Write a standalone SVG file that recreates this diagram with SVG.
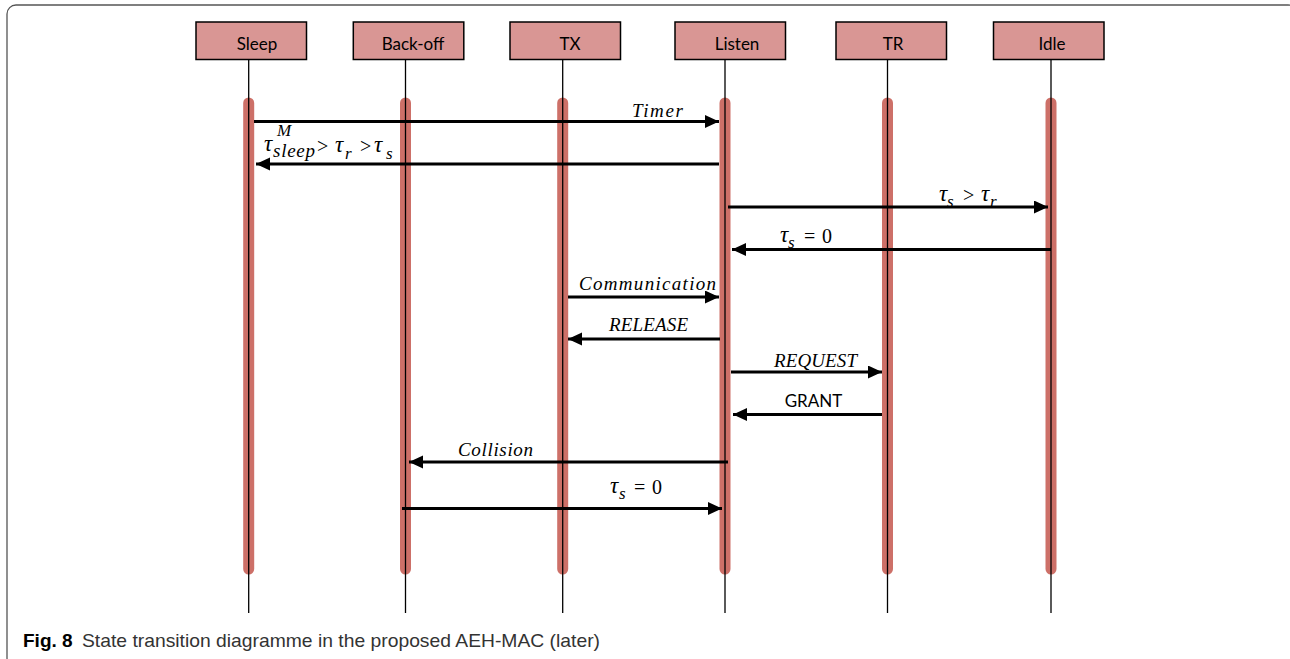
<svg xmlns="http://www.w3.org/2000/svg" width="1290" height="659" viewBox="0 0 1290 659">
<style>
.box{fill:#d99694;stroke:#000;stroke-width:1.5}
.hl{font-family:Lato,"Open Sans","Liberation Sans",sans-serif;font-size:17px;fill:#000;text-anchor:middle}
.life{stroke:#000;stroke-width:1.3}
.bar{stroke:#cd7068;stroke-width:11;stroke-linecap:round}
.arr{stroke:#000;stroke-width:3;fill:none;marker-end:url(#ah)}
.m{font-family:"Liberation Serif","DejaVu Serif",serif;font-style:italic;font-size:19px;fill:#000}
.t{font-family:"Liberation Serif","DejaVu Serif",serif;font-style:italic;font-size:23px;fill:#000}
.ms{font-family:"Liberation Serif","DejaVu Serif",serif;font-style:italic;font-size:17px;fill:#000}
.mr{font-family:"Liberation Serif","DejaVu Serif",serif;font-size:20px;fill:#000}
.cap{font-family:"Liberation Sans",Arial,sans-serif;font-size:19px}
</style>
<defs>
<marker id="ah" markerUnits="userSpaceOnUse" markerWidth="15" markerHeight="14" refX="14" refY="6.5" orient="auto">
<path d="M0,0 L14,6.5 L0,13 z" fill="#000"/>
</marker>
</defs>
<rect x="7" y="5" width="1290" height="662" rx="9" fill="none" stroke="#555" stroke-width="1.3"/>
<g id="node-sleep">
<line class="bar" x1="248.7" y1="103" x2="248.7" y2="569"/>
<line class="life" x1="248.7" y1="60" x2="248.7" y2="613"/>
<rect class="box" x="196" y="22" width="110.5" height="37.5"/>
<text class="hl" x="257" y="50">Sleep</text>
</g>
<g id="node-backoff">
<line class="bar" x1="405.5" y1="103" x2="405.5" y2="569"/>
<line class="life" x1="405.5" y1="60" x2="405.5" y2="613"/>
<rect class="box" x="353.3" y="22" width="110.5" height="37.5"/>
<text class="hl" x="413" y="50">Back-off</text>
</g>
<g id="node-tx">
<line class="bar" x1="562.7" y1="103" x2="562.7" y2="569"/>
<line class="life" x1="562.7" y1="60" x2="562.7" y2="613"/>
<rect class="box" x="510" y="22" width="110.5" height="37.5"/>
<text class="hl" x="570" y="50">TX</text>
</g>
<g id="node-listen">
<line class="bar" x1="725" y1="103" x2="725" y2="569"/>
<line class="life" x1="725" y1="60" x2="725" y2="613"/>
<rect class="box" x="675" y="22" width="110.5" height="37.5"/>
<text class="hl" x="737" y="50">Listen</text>
</g>
<g id="node-tr">
<line class="bar" x1="887.5" y1="103" x2="887.5" y2="569"/>
<line class="life" x1="887.5" y1="60" x2="887.5" y2="613"/>
<rect class="box" x="836" y="22" width="110.5" height="37.5"/>
<text class="hl" x="893" y="50">TR</text>
</g>
<g id="node-idle">
<line class="bar" x1="1051" y1="103" x2="1051" y2="569"/>
<line class="life" x1="1051" y1="60" x2="1051" y2="613"/>
<rect class="box" x="993.5" y="22" width="110.5" height="37.5"/>
<text class="hl" x="1052" y="50">Idle</text>
</g>
<g id="connectors">
<line class="arr" x1="254" y1="121.5" x2="719" y2="121.5"/>
<line class="arr" x1="719" y1="164" x2="256" y2="164"/>
<line class="arr" x1="728" y1="207" x2="1048" y2="207"/>
<line class="arr" x1="1051" y1="249.5" x2="732" y2="249.5"/>
<line class="arr" x1="568" y1="297" x2="719" y2="297"/>
<line class="arr" x1="720" y1="339" x2="568" y2="339"/>
<line class="arr" x1="731" y1="372" x2="882" y2="372"/>
<line class="arr" x1="882" y1="414.5" x2="733" y2="414.5"/>
<line class="arr" x1="728" y1="462" x2="409" y2="462"/>
<line class="arr" x1="402" y1="508.5" x2="722" y2="508.5"/>
</g>
<g id="labels">
<text class="m" x="632" y="117" textLength="51" lengthAdjust="spacing">Timer</text>
<text class="t" x="264" y="151">τ</text>
<text class="ms" x="277" y="136">M</text>
<text class="m" x="273" y="157" textLength="42" lengthAdjust="spacing">sleep</text>
<text class="mr" x="317" y="153">&gt;</text>
<text class="t" x="335" y="152">τ</text>
<text class="ms" x="345" y="159">r</text>
<text class="mr" x="360" y="153">&gt;</text>
<text class="t" x="374" y="152">τ</text>
<text class="ms" x="386" y="159">s</text>
<text class="t" x="939" y="201">τ</text>
<text class="ms" x="947" y="207">s</text>
<text class="mr" x="963" y="202">&gt;</text>
<text class="t" x="981" y="201">τ</text>
<text class="ms" x="990" y="207">r</text>
<text class="t" x="780" y="242">τ</text>
<text class="ms" x="788" y="248">s</text>
<text class="mr" x="804" y="243">=</text>
<text class="mr" x="822" y="243">0</text>
<text class="m" x="579" y="290" textLength="137" lengthAdjust="spacing">Communication</text>
<text class="m" x="609" y="331" textLength="79" lengthAdjust="spacing">RELEASE</text>
<text class="m" x="774" y="367" textLength="83" lengthAdjust="spacing">REQUEST</text>
<text class="hl" x="813.5" y="407">GRANT</text>
<text class="m" x="458" y="456" textLength="75" lengthAdjust="spacing">Collision</text>
<text class="t" x="610" y="493">τ</text>
<text class="ms" x="619" y="499">s</text>
<text class="mr" x="634" y="494">=</text>
<text class="mr" x="652" y="494">0</text>
</g>
<text class="cap" x="23" y="647" font-weight="bold" fill="#000">Fig. 8</text>
<text class="cap" x="82" y="647" fill="#333" textLength="518" lengthAdjust="spacingAndGlyphs">State transition diagramme in the proposed AEH-MAC (later)</text>
</svg>
